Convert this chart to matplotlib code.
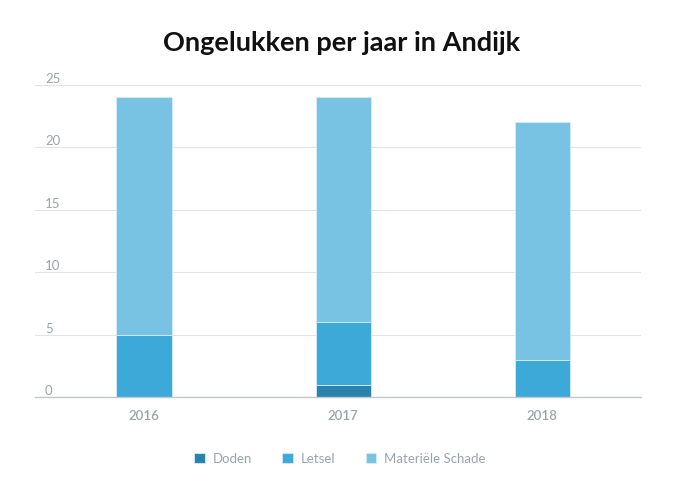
import matplotlib
matplotlib.use("Agg")
import matplotlib.pyplot as plt
import matplotlib.transforms as mtransforms
import numpy as np

years = ["2016", "2017", "2018"]
series_names = ["Doden", "Letsel", "Materiële Schade"]
doden = [0, 1, 0]
letsel = [5, 5, 3]
materiele = [19, 18, 19]
yticks = [0, 5, 10, 15, 20, 25]

colors = ["#2a83ad", "#3ca9d8", "#78c3e3"]
label_color = "#9aa5ab"

plt.rcParams['font.family'] = ['Lato', 'DejaVu Sans']

fig = plt.figure(figsize=(6.84, 4.87), dpi=100)
ax = fig.add_axes([35/684, 1-397/487, (641-35)/684, (397-85)/487])

x = np.arange(len(years))
bottom = np.zeros(len(years))
width = 0.277
for name, vals, c in zip(series_names, [doden, letsel, materiele], colors):
    ax.bar(x, vals, width=width, bottom=bottom, color=c, label=name,
           edgecolor="#d6ecf6", linewidth=0.6, zorder=3)
    bottom += np.array(vals)

ax.set_ylim(0, 25)
ax.set_xlim(-0.548, 2.497)
ax.set_yticks(yticks)
ax.set_yticklabels([])
ax.tick_params(axis='y', length=0)
ax.grid(axis='y', color="#e3e3e3", linewidth=0.8, zorder=0)
for s in ["top", "right", "left"]:
    ax.spines[s].set_visible(False)
ax.spines["bottom"].set_color("#c4c8cb")
ax.spines["bottom"].set_linewidth(1.0)
ax.spines["bottom"].set_zorder(4)

trans = mtransforms.blended_transform_factory(ax.transAxes, ax.transData)
for t in yticks:
    ax.text(10/606, t, str(t), transform=trans, ha='left', va='bottom',
            fontsize=9.5, color=label_color)

ax.set_xticks(x)
ax.set_xticklabels(years, fontsize=9.5, color=label_color, fontweight='semibold')
ax.tick_params(axis='x', length=0, pad=9)

fig.text(0.5, 1-43/487, "Ongelukken per jaar in Andijk", ha='center', va='center',
         fontsize=19.5, fontweight='bold', color="#111111")

leg = fig.legend(loc='center', bbox_to_anchor=(340/684, 1-459/487), ncol=3,
                 frameon=False, fontsize=9.5, handlelength=0.8, handleheight=0.8,
                 columnspacing=2.3, handletextpad=0.6)
for t in leg.get_texts():
    t.set_color(label_color)

fig.savefig("out.png", dpi=100)
